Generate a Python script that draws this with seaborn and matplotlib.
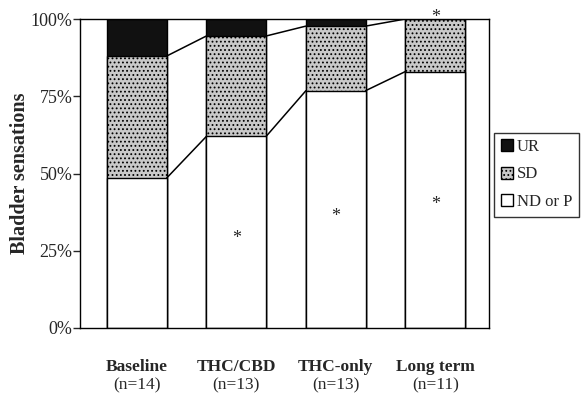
import matplotlib
matplotlib.use("Agg")
import matplotlib.pyplot as plt
import seaborn as sns
import pandas as pd
import numpy as np
from matplotlib.patches import Patch

sns.set_style("ticks")
plt.rcParams["font.family"] = ["Liberation Serif", "DejaVu Serif"]
plt.rcParams["hatch.linewidth"] = 0.8

categories = ["Baseline", "THC/CBD", "THC-only", "Long term"]
n_labels = ["(n=14)", "(n=13)", "(n=13)", "(n=11)"]
nd_or_p = [48.5, 62.0, 76.8, 83.0]
sd = [39.5, 32.5, 20.9, 17.0]
ur = [12.0, 5.5, 2.3, 0.0]
star_y = [None, 29.0, 36.0, 40.0]
star_top = [None, None, None, 100.6]
yticks = [0, 25, 50, 75, 100]

nd_arr = np.array(nd_or_p)
sd_cum = nd_arr + np.array(sd)
total = sd_cum + np.array(ur)

df = pd.DataFrame({"cat": categories, "total": total, "sdcum": sd_cum, "nd": nd_arr})

fig = plt.figure(figsize=(5.84, 3.94), dpi=100)
ax = fig.add_axes([80 / 584, 1 - 328 / 394, 409 / 584, 309 / 394])

sns.barplot(data=df, x="cat", y="total", color="#111111", edgecolor="black",
            linewidth=1.0, width=0.6, saturation=1, ax=ax)
sns.barplot(data=df, x="cat", y="sdcum", color="#c9c9c9", edgecolor="black",
            linewidth=1.0, width=0.6, saturation=1, hatch="....", ax=ax)
sns.barplot(data=df, x="cat", y="nd", color="white", edgecolor="black",
            linewidth=1.0, width=0.6, saturation=1, ax=ax)

# connector lines between bars
for i in range(len(categories) - 1):
    for level in (nd_arr, sd_cum):
        ax.plot([i + 0.3, i + 0.7], [level[i], level[i + 1]], color="black", lw=1.1, zorder=5)

# asterisks
for i, yv in enumerate(star_y):
    if yv is not None:
        ax.text(i, yv, "*", ha="center", va="center", fontsize=13)
for i, yv in enumerate(star_top):
    if yv is not None:
        ax.text(i, yv, "*", ha="center", va="center", fontsize=13, clip_on=False)

ax.set_xlim(-0.57, 3.54)
ax.set_ylim(0, 100)
ax.set_yticks(yticks)
ax.set_yticklabels([f"{v}%" for v in yticks], fontsize=13)
ax.set_xticks(range(len(categories)))
ax.set_xticklabels(categories, fontsize=12.5, fontweight="bold")
ax.tick_params(axis="x", length=0, pad=22)
ax.tick_params(axis="y", length=5, width=1, direction="out", pad=0.5)
for i, t in enumerate(n_labels):
    ax.text(i, -18.5, t, ha="center", va="center", fontsize=12.5, transform=ax.transData, clip_on=False)
ax.set_xlabel("")
ax.set_ylabel("Bladder sensations", fontsize=14.5, fontweight="bold", labelpad=0.5)
for s in ax.spines.values():
    s.set_visible(True)
    s.set_color("black")
    s.set_linewidth(1.0)

handles = [
    Patch(facecolor="#111111", edgecolor="black", label="UR"),
    Patch(facecolor="#c9c9c9", edgecolor="black", hatch="....", label="SD"),
    Patch(facecolor="white", edgecolor="black", label="ND or P"),
]
leg = fig.legend(handles=handles, loc="center", bbox_to_anchor=(536.5 / 584, 1 - 174.5 / 394),
                 fontsize=12, frameon=True, fancybox=False, handlelength=0.72, handleheight=0.72,
                 handletextpad=0.25, borderpad=0.4, labelspacing=0.68, borderaxespad=0)
leg.get_frame().set_edgecolor("black")
leg.get_frame().set_linewidth(1.0)

fig.savefig("out.png", dpi=100)
